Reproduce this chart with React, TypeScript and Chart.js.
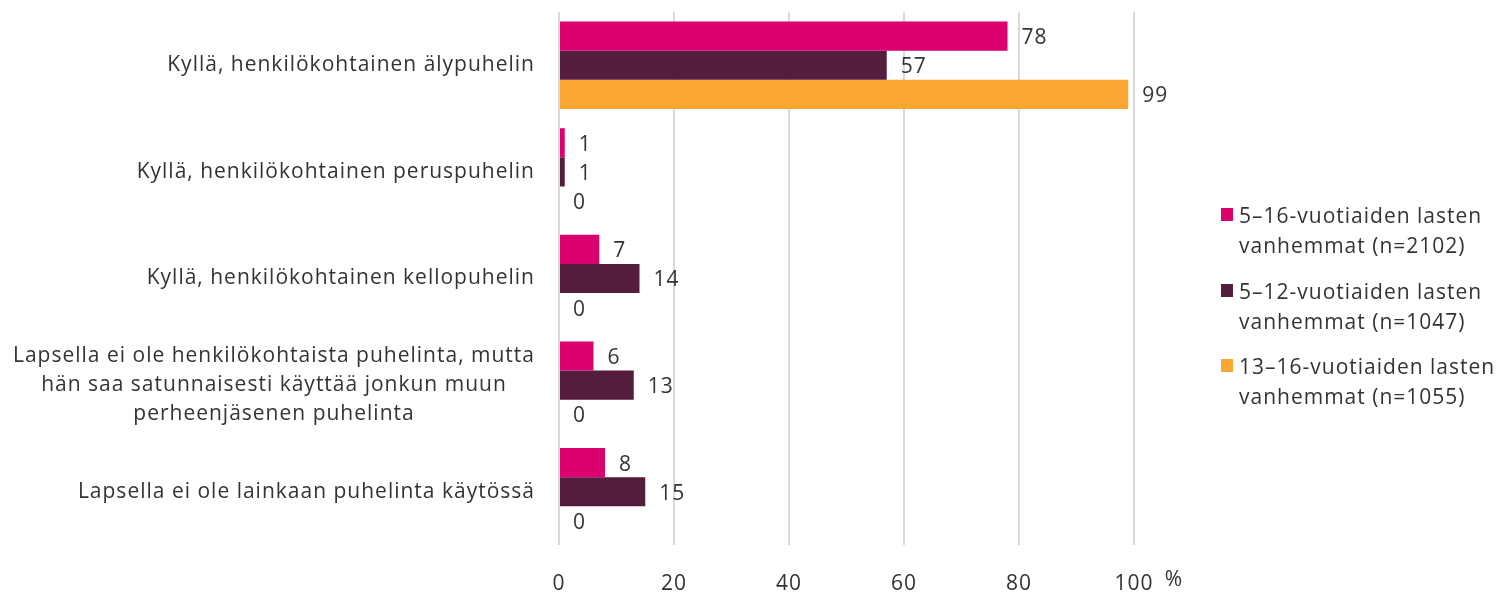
import React, { useEffect, useRef } from "react";
import { Chart, registerables } from "chart.js";

Chart.register(...registerables);

const categories: (string | string[])[] = [
  "Kyllä, henkilökohtainen älypuhelin",
  "Kyllä, henkilökohtainen peruspuhelin",
  "Kyllä, henkilökohtainen kellopuhelin",
  [
    "Lapsella ei ole henkilökohtaista puhelinta, mutta",
    "hän saa satunnaisesti käyttää jonkun muun",
    "perheenjäsenen puhelinta",
  ],
  "Lapsella ei ole lainkaan puhelinta käytössä",
];

const seriesNames: string[][] = [
  ["5–16-vuotiaiden lasten", "vanhemmat (n=2102)"],
  ["5–12-vuotiaiden lasten", "vanhemmat (n=1047)"],
  ["13–16-vuotiaiden lasten", "vanhemmat (n=1055)"],
];

const values5to16 = [78, 1, 7, 6, 8];
const values5to12 = [57, 1, 14, 13, 15];
const values13to16 = [99, 0, 0, 0, 0];

const seriesColors = ["#DB006F", "#541D3E", "#FBA535"];

const xTicks = [0, 20, 40, 60, 80, 100];
const unitLabel = "%";

const FONT = "'Open Sans', sans-serif";
const TEXT = "#333333";
const LS = "1px";

const customPlugin = {
  id: "custom",
  beforeDraw(chart: any) {
    (chart.ctx as any).letterSpacing = LS;
  },
  afterDatasetsDraw(chart: any) {
    const ctx = chart.ctx;
    ctx.save();
    (ctx as any).letterSpacing = LS;
    ctx.fillStyle = TEXT;
    ctx.font = `21px ${FONT}`;
    ctx.textAlign = "left";
    ctx.textBaseline = "middle";
    chart.data.datasets.forEach((ds: any, di: number) => {
      const meta = chart.getDatasetMeta(di);
      meta.data.forEach((el: any, i: number) => {
        ctx.fillText(String(ds.data[i]), el.x + 14, el.y + 2);
      });
    });
    // y labels
    const yScale = chart.scales.y;
    ctx.font = `21px ${FONT}`;
    const lh = 29;
    const rightX = 535;
    categories.forEach((lab, i) => {
      const y = yScale.getPixelForValue(i);
      const lines = Array.isArray(lab) ? lab : [lab];
      const startY = y - ((lines.length - 1) * lh) / 2;
      if (lines.length === 1) {
        ctx.textAlign = "right";
        ctx.fillText(lines[0], rightX, y);
      } else {
        const maxW = Math.max(...lines.map((l) => ctx.measureText(l).width));
        const cx = rightX - maxW / 2;
        ctx.textAlign = "center";
        lines.forEach((l, j) => ctx.fillText(l, cx, startY + j * lh));
      }
    });
    // unit label
    const xScale = chart.scales.x;
    ctx.font = `21px ${FONT}`;
    ctx.textAlign = "center";
    ctx.fillText(unitLabel, xScale.getPixelForValue(100) + 40, 580);
    ctx.restore();
  },
};

export default function App() {
  const canvasRef = useRef<HTMLCanvasElement | null>(null);

  useEffect(() => {
    const canvas = canvasRef.current;
    if (!canvas) return;
    const chart = new Chart(canvas, {
      type: "bar",
      data: {
        labels: categories as any,
        datasets: [values5to16, values5to12, values13to16].map((d, i) => ({
          label: seriesNames[i].join(" "),
          data: d,
          backgroundColor: seriesColors[i],
          borderWidth: 0,
          categoryPercentage: 0.82,
          barPercentage: 1,
        })),
      },
      options: {
        indexAxis: "y",
        responsive: false,
        animation: false,
        layout: { padding: { top: 12, right: 365, left: 0, bottom: 0 } },
        plugins: {
          legend: { display: false },
          tooltip: { enabled: false },
        },
        scales: {
          x: {
            min: 0,
            max: 100,
            afterBuildTicks(scale: any) {
              scale.ticks = xTicks.map((v) => ({ value: v }));
            },
            afterFit(scale: any) {
              scale.height = 51;
            },
            grid: { color: "#D9D9D9", lineWidth: 2, drawTicks: false },
            border: { display: false },
            ticks: {
              color: TEXT,
              font: { family: FONT, size: 21 },
              padding: 26,
              maxRotation: 0,
            },
          },
          y: {
            afterFit(scale: any) {
              scale.width = 559;
            },
            grid: { display: false },
            border: { display: false },
            ticks: { display: false },
          },
        },
      },
      plugins: [customPlugin],
    });
    return () => chart.destroy();
  }, []);

  const legendTops = [200, 276, 351];

  return (
    <div style={{ position: "absolute", left: 0, top: 0, width: 1499, height: 596, background: "#fff" }}>
      <canvas ref={canvasRef} width={1499} height={596} style={{ position: "absolute", left: 0, top: 0 }} />
      {seriesNames.map((lines, i) => (
        <div
          key={i}
          style={{
            position: "absolute",
            left: 1221,
            top: legendTops[i],
            fontFamily: FONT,
            fontSize: 21,
            letterSpacing: LS,
            lineHeight: "30px",
            color: TEXT,
          }}
        >
          <div
            style={{
              position: "absolute",
              left: 0,
              top: 8,
              width: 12,
              height: 13,
              background: seriesColors[i],
            }}
          />
          <div style={{ marginLeft: 18, whiteSpace: "nowrap" }}>
            {lines.map((l, j) => (
              <div key={j}>{l}</div>
            ))}
          </div>
        </div>
      ))}
    </div>
  );
}
